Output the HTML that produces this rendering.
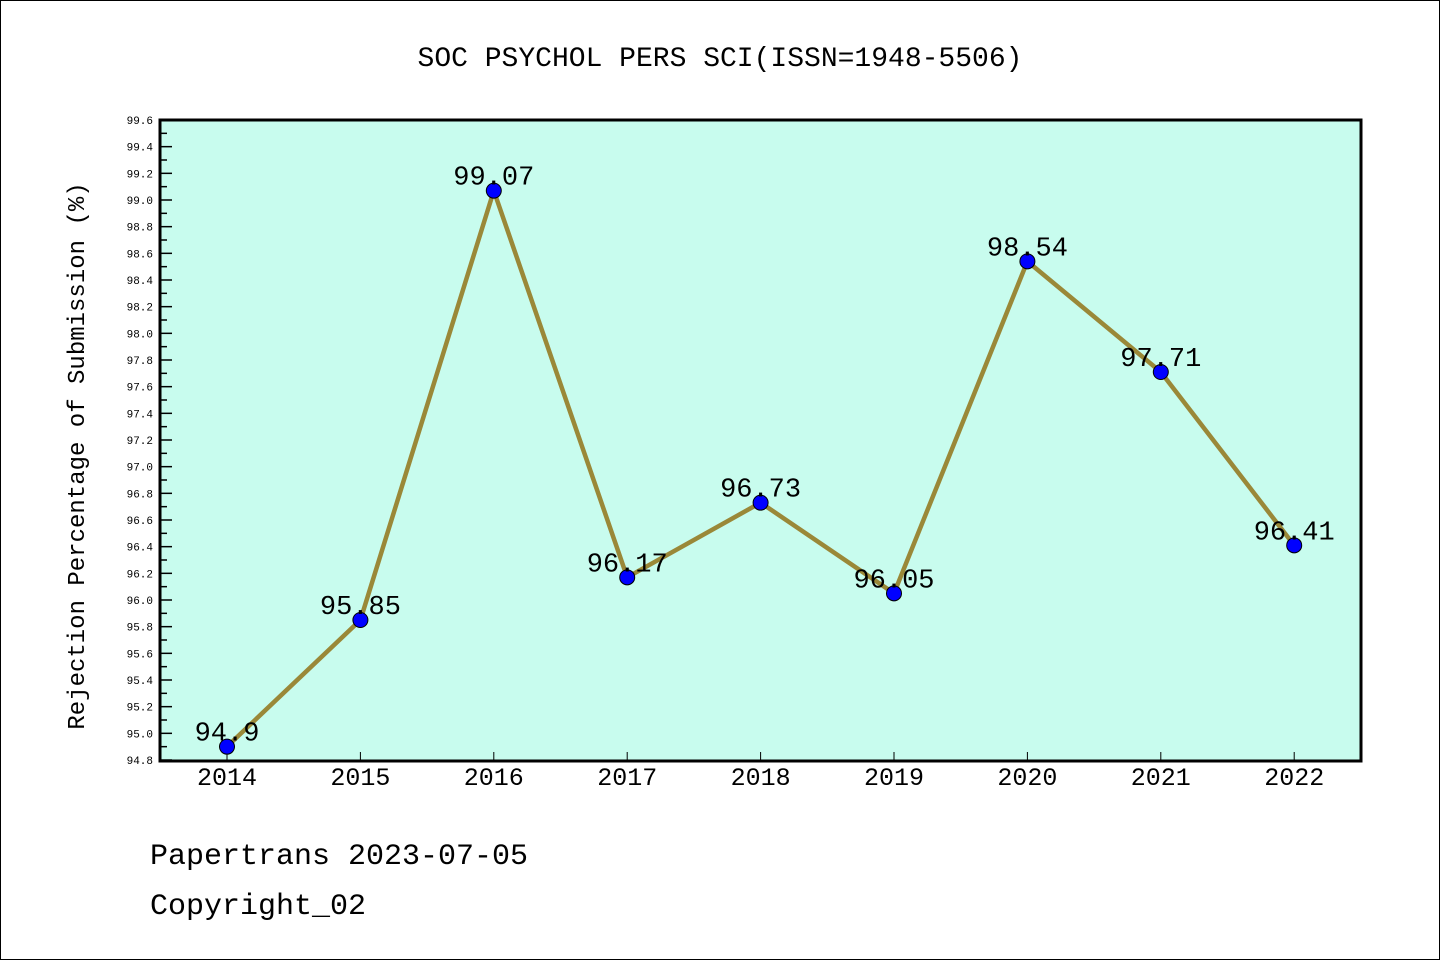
<!DOCTYPE html>
<html><head><meta charset="utf-8"><style>
body{margin:0;background:#fff}
svg{display:block}
text{font-family:"Liberation Mono","WenQuanYi Zen Hei",monospace;fill:#000}
</style></head><body>
<svg id="chart" width="1440" height="960" xmlns="http://www.w3.org/2000/svg">
<rect x="0.5" y="0.5" width="1439" height="959" fill="#fff" stroke="#000"/>
<text x="720" y="66" font-size="28" text-anchor="middle">SOC PSYCHOL PERS SCI(ISSN=1948-5506)</text>
<rect x="160" y="120" width="1201" height="641" fill="#c8fcee"/>
<g id="yaxis"></g><g id="xaxis"></g><g id="series"></g>
<rect x="160" y="120" width="1201" height="641" fill="none" stroke="#000" stroke-width="3"/>
<text transform="translate(84,456) rotate(-90)" font-size="24" text-anchor="middle">Rejection Percentage of Submission (%)</text>
<text x="150" y="864" font-size="30">Papertrans 2023-07-05</text>
<text x="150" y="914" font-size="30">Copyright_02</text>
</svg>
<script>
const years=["2014","2015","2016","2017","2018","2019","2020","2021","2022"];
const values=[94.9,95.85,99.07,96.17,96.73,96.05,98.54,97.71,96.41];
const valueLabels=["94.9","95.85","99.07","96.17","96.73","96.05","98.54","97.71","96.41"];
const yMin=94.8,yMax=99.6;
const NS="http://www.w3.org/2000/svg";
function y(v){return 760-(v-yMin)/(yMax-yMin)*640;}
function x(i){return 227+i*133.4;}
function mk(tag,attrs,parent){const e=document.createElementNS(NS,tag);for(const k in attrs)e.setAttribute(k,attrs[k]);parent.appendChild(e);return e;}
const ya=document.getElementById('yaxis'),xa=document.getElementById('xaxis'),se=document.getElementById('series');
for(let k=0;k<=48;k++){
  const v=yMin+k*0.1,yy=y(v),major=k%2===0;
  const t=mk('line',{x1:160,x2:major?172:167,y1:yy,y2:yy,stroke:'#000','stroke-width':1.5},ya);
  
  
  if(major){const l=mk('text',{x:153,y:yy+4,'font-size':11,'text-anchor':'end','font-family':'Liberation Sans, sans-serif'},ya);l.textContent=v.toFixed(1);
    
    }
}
years.forEach((yr,i)=>{
  const t=mk('line',{x1:x(i),x2:x(i),y1:761,y2:752,stroke:'#000','stroke-width':1},xa);
  
  
  const l=mk('text',{x:x(i),y:785,'font-size':25,'text-anchor':'middle'},xa);l.textContent=yr;
  
  
});
const pl=mk('polyline',{points:values.map((v,i)=>x(i)+','+y(v)).join(' '),fill:'none',stroke:'#9a8838','stroke-width':4.5},se);


values.forEach((v,i)=>{
  const c=mk('circle',{cx:x(i),cy:y(v),r:7.5,fill:'#0000ff',stroke:'#000','stroke-width':1},se);
  
  
  const l=mk('text',{x:x(i),y:y(v)-6,'font-size':27,'text-anchor':'middle'},se);l.textContent=valueLabels[i];
  
  
});
</script>
</body></html>
